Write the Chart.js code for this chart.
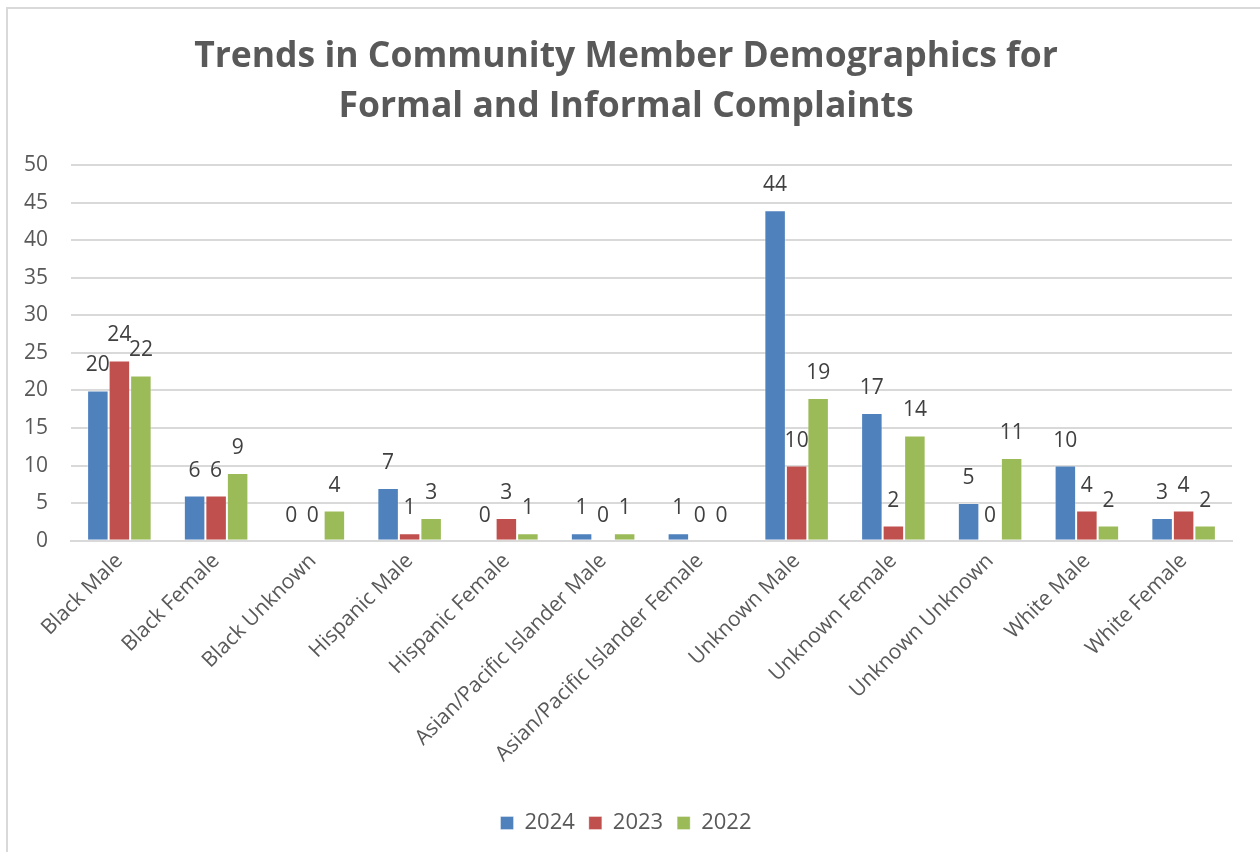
<!DOCTYPE html>
<html>
<head>
<meta charset="utf-8">
<script src="https://cdn.jsdelivr.net/npm/chart.js@4.4.1/dist/chart.umd.min.js"></script>
<style>
  html, body { margin: 0; padding: 0; background: #fff; }
  #frame { position: absolute; left: 6px; top: 7px; width: 1270px; height: 870px; border: 2px solid #d9d9d9; box-sizing: border-box; }
  #wrap { position: absolute; left: 0; top: 0; width: 1260px; height: 852px; }
</style>
</head>
<body>
<div id="frame"></div>
<div id="wrap"><canvas id="c" width="1260" height="852"></canvas></div>
<script>
const categories = ["Black Male", "Black Female", "Black Unknown", "Hispanic Male", "Hispanic Female",
  "Asian/Pacific Islander Male", "Asian/Pacific Islander Female", "Unknown Male", "Unknown Female",
  "Unknown Unknown", "White Male", "White Female"];
const seriesNames = ["2024", "2023", "2022"];
const values2024 = [20, 6, 0, 7, 0, 1, 1, 44, 17, 5, 10, 3];
const values2023 = [24, 6, 0, 1, 3, 0, 0, 10, 2, 0, 4, 4];
const values2022 = [22, 9, 4, 3, 1, 1, 0, 19, 14, 11, 2, 2];
const yTicks = [0, 5, 10, 15, 20, 25, 30, 35, 40, 45, 50];
const colors = ["#4F81BD", "#C0504D", "#9BBB59"];

const FONT = "'Open Sans', 'Noto Sans', sans-serif";
const TXT = "#595959";

const labelPlugin = {
  id: 'barLabels',
  afterDatasetsDraw(chart) {
    const ctx = chart.ctx;
    ctx.save();
    ctx.font = "21px " + FONT;
    ctx.fillStyle = "#404040";
    ctx.textAlign = "center";
    ctx.textBaseline = "middle";
    chart.data.datasets.forEach((ds, di) => {
      const meta = chart.getDatasetMeta(di);
      meta.data.forEach((bar, i) => {
        ctx.fillText(String(ds.data[i]), bar.x, bar.y - 25);
      });
    });
    ctx.restore();
  }
};

new Chart(document.getElementById('c'), {
  type: 'bar',
  data: {
    labels: categories,
    datasets: [values2024, values2023, values2022].map((d, i) => ({
      label: seriesNames[i],
      data: d,
      backgroundColor: colors[i],
      borderColor: 'rgba(255,255,255,0.35)',
      borderWidth: 1,
      categoryPercentage: 0.667,
      barPercentage: 1.0
    }))
  },
  options: {
    responsive: false,
    animation: false,
    devicePixelRatio: 1,
    layout: { padding: { left: 20, right: 28, top: 32, bottom: 8 } },
    plugins: {
      title: {
        display: true,
        text: ["Trends in Community Member Demographics for", "Formal and Informal Complaints"],
        color: TXT,
        font: { family: FONT, size: 35.5, weight: 'bold', lineHeight: 1.41 },
        padding: { top: 0, bottom: 33 }
      },
      legend: {
        position: 'bottom',
        labels: {
          color: TXT,
          font: { family: FONT, size: 22 },
          boxWidth: 13,
          boxHeight: 13,
          padding: 14
        }
      },
      tooltip: { enabled: false }
    },
    scales: {
      x: {
        grid: { display: false, drawTicks: false },
        border: { display: true, color: '#d9d9d9', width: 2 },
        afterFit(axis) { axis.height += 23; },
        ticks: {
          color: TXT,
          font: { family: FONT, size: 21 },
          maxRotation: 45,
          minRotation: 45,
          padding: 8,
          autoSkip: false
        }
      },
      y: {
        min: 0,
        max: 50,
        afterBuildTicks(axis) { axis.ticks = yTicks.map(v => ({ value: v })); },
        afterFit(axis) { axis.width = 51; },
        grid: { color: '#d9d9d9', lineWidth: 2, drawTicks: false },
        border: { display: false },
        ticks: {
          color: TXT,
          font: { family: FONT, size: 21 },
          padding: 23
        }
      }
    }
  },
  plugins: [labelPlugin]
});
</script>
</body>
</html>
